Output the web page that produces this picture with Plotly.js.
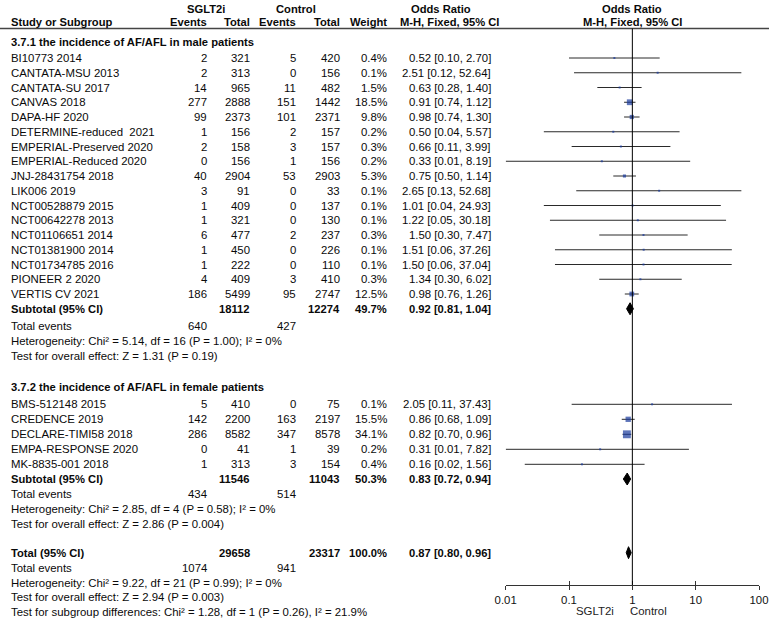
<!DOCTYPE html>
<html>
<head>
<meta charset="utf-8">
<script src="https://cdn.plot.ly/plotly-3.0.1.min.js"></script>
<style>html,body{margin:0;padding:0;background:#fff}#chart{width:769px;height:622px}</style>
</head>
<body>
<div id="chart"></div>
<script>
// ---------- DATA ----------
const maleStudies = ["BI10773 2014","CANTATA-MSU 2013","CANTATA-SU 2017","CANVAS 2018","DAPA-HF 2020","DETERMINE-reduced  2021","EMPERIAL-Preserved 2020","EMPERIAL-Reduced 2020","JNJ-28431754 2018","LIK006 2019","NCT00528879 2015","NCT00642278 2013","NCT01106651 2014","NCT01381900 2014","NCT01734785 2016","PIONEER 2 2020","VERTIS CV 2021"];
const maleEventsT = [2,2,14,277,99,1,2,0,40,3,1,1,6,1,1,4,186];
const maleTotalT  = [321,313,965,2888,2373,156,158,156,2904,91,409,321,477,450,222,409,5499];
const maleEventsC = [5,0,11,151,101,2,3,1,53,0,0,0,2,0,0,3,95];
const maleTotalC  = [420,156,482,1442,2371,157,157,156,2903,33,137,130,237,226,110,410,2747];
const maleWeight  = [0.4,0.1,1.5,18.5,9.8,0.2,0.3,0.2,5.3,0.1,0.1,0.1,0.3,0.1,0.1,0.3,12.5];
const maleOR      = [0.52,2.51,0.63,0.91,0.98,0.50,0.66,0.33,0.75,2.65,1.01,1.22,1.50,1.51,1.50,1.34,0.98];
const maleLo      = [0.10,0.12,0.28,0.74,0.74,0.04,0.11,0.01,0.50,0.13,0.04,0.05,0.30,0.06,0.06,0.30,0.76];
const maleHi      = [2.70,52.64,1.40,1.12,1.30,5.57,3.99,8.19,1.14,52.68,24.93,30.18,7.47,37.26,37.04,6.02,1.26];
const maleSub     = {totalT:18112,totalC:12274,weight:49.7,or:0.92,lo:0.81,hi:1.04,eventsT:640,eventsC:427};
const maleHet     = "Heterogeneity: Chi² = 5.14, df = 16 (P = 1.00); I² = 0%";
const maleTest    = "Test for overall effect: Z = 1.31 (P = 0.19)";

const femaleStudies = ["BMS-512148 2015","CREDENCE 2019","DECLARE-TIMI58 2018","EMPA-RESPONSE 2020","MK-8835-001 2018"];
const femaleEventsT = [5,142,286,0,1];
const femaleTotalT  = [410,2200,8582,41,313];
const femaleEventsC = [0,163,347,1,3];
const femaleTotalC  = [75,2197,8578,39,154];
const femaleWeight  = [0.1,15.5,34.1,0.2,0.4];
const femaleOR      = [2.05,0.86,0.82,0.31,0.16];
const femaleLo      = [0.11,0.68,0.70,0.01,0.02];
const femaleHi      = [37.43,1.09,0.96,7.82,1.56];
const femaleSub     = {totalT:11546,totalC:11043,weight:50.3,or:0.83,lo:0.72,hi:0.94,eventsT:434,eventsC:514};
const femaleHet     = "Heterogeneity: Chi² = 2.85, df = 4 (P = 0.58); I² = 0%";
const femaleTest    = "Test for overall effect: Z = 2.86 (P = 0.004)";

const overall       = {totalT:29658,totalC:23317,weight:100.0,or:0.87,lo:0.80,hi:0.96,eventsT:1074,eventsC:941};
const overallHet    = "Heterogeneity: Chi² = 9.22, df = 21 (P = 0.99); I² = 0%";
const overallTest   = "Test for overall effect: Z = 2.94 (P = 0.003)";
const subgroupTest  = "Test for subgroup differences: Chi² = 1.28, df = 1 (P = 0.26), I² = 21.9%";

const tickVals   = [0.01,0.1,1,10,100];
const tickLabels = ["0.01","0.1","1","10","100"];

// ---------- LAYOUT (pixel geometry) ----------
const W = 769, H = 622;
const FONT = "Liberation Sans, Arial, sans-serif";
const FS = 11.4, FSB = 11.2;
const colX = {name:9, evT:209.5, totT:252, evC:297.7, totC:342.3, wt:389.3, orTxt:493};
const axisY = 585;
const maleRowY = i => 58 + i*14.75;
const femaleRowY = i => 404.3 + i*15;
const Y = {
  hdr1: 9, hdr2: 22, line: 28.5, maleHead: 42,
  maleSub: 58 + 17*14.75, maleEv: 325.5, maleHet: 341, maleTest: 356,
  femHead: 387, femSub: 479, femEv: 494, femHet: 508.5, femTest: 523.5,
  tot: 552.7, totEv: 567.7, totHet: 582.5, totTest: 597.3, subTest: 612.3
};
const fmt2 = v => v.toFixed(2);
const ciText = (o,l,h) => `${fmt2(o)} [${fmt2(l)}, ${fmt2(h)}]`;

const ann = [];
function txt(x, y, s, anchor, bold, color) {
  ann.push({xref:'paper', yref:'y', x: x/W, y: y, text: bold ? '<b>'+s+'</b>' : s,
    xanchor: anchor, yanchor:'middle', showarrow:false,
    font:{family:FONT, size: bold ? FSB : FS, color: color || '#0a0a0a'}});
}

// headers
txt(206, Y.hdr1, 'SGLT2i', 'center', true);
txt(296, Y.hdr1, 'Control', 'center', true);
txt(441, Y.hdr1, 'Odds Ratio', 'center', true);
txt(632, Y.hdr1, 'Odds Ratio', 'center', true);
txt(colX.name, Y.hdr2, 'Study or Subgroup', 'left', true);
txt(colX.evT, Y.hdr2, 'Events', 'right', true);
txt(colX.totT, Y.hdr2, 'Total', 'right', true);
txt(colX.evC, Y.hdr2, 'Events', 'right', true);
txt(colX.totC, Y.hdr2, 'Total', 'right', true);
txt(colX.wt, Y.hdr2, 'Weight', 'right', true);
txt(449, Y.hdr2, 'M-H, Fixed, 95% CI', 'center', true);
txt(632, Y.hdr2, 'M-H, Fixed, 95% CI', 'center', true);

function studyRows(names, eT, tT, eC, tC, wt, or, lo, hi, rowY) {
  names.forEach((n,i) => {
    const y = rowY(i);
    txt(colX.name, y, n, 'left');
    txt(colX.evT, y, String(eT[i]), 'right');
    txt(colX.totT, y, String(tT[i]), 'right');
    txt(colX.evC, y, String(eC[i]), 'right');
    txt(colX.totC, y, String(tC[i]), 'right');
    txt(colX.wt, y, wt[i].toFixed(1)+'%', 'right');
    txt(colX.orTxt, y, ciText(or[i],lo[i],hi[i]), 'right');
  });
}
function summaryRows(label, s, ySub, yEv) {
  txt(colX.name, ySub, label, 'left', true);
  txt(colX.totT, ySub, String(s.totalT), 'right', true);
  txt(colX.totC, ySub, String(s.totalC), 'right', true);
  txt(colX.wt, ySub, s.weight.toFixed(1)+'%', 'right', true);
  txt(colX.orTxt, ySub, ciText(s.or,s.lo,s.hi), 'right', true);
  txt(colX.name, yEv, 'Total events', 'left');
  txt(colX.evT, yEv, String(s.eventsT), 'right');
  txt(colX.evC, yEv, String(s.eventsC), 'right');
}

txt(colX.name, Y.maleHead, '3.7.1 the incidence of AF/AFL in male patients', 'left', true);
studyRows(maleStudies, maleEventsT, maleTotalT, maleEventsC, maleTotalC, maleWeight, maleOR, maleLo, maleHi, maleRowY);
summaryRows('Subtotal (95% CI)', maleSub, Y.maleSub, Y.maleEv);
txt(colX.name, Y.maleHet, maleHet, 'left');
txt(colX.name, Y.maleTest, maleTest, 'left');

txt(colX.name, Y.femHead, '3.7.2 the incidence of AF/AFL in female patients', 'left', true);
studyRows(femaleStudies, femaleEventsT, femaleTotalT, femaleEventsC, femaleTotalC, femaleWeight, femaleOR, femaleLo, femaleHi, femaleRowY);
summaryRows('Subtotal (95% CI)', femaleSub, Y.femSub, Y.femEv);
txt(colX.name, Y.femHet, femaleHet, 'left');
txt(colX.name, Y.femTest, femaleTest, 'left');

summaryRows('Total (95% CI)', overall, Y.tot, Y.totEv);
txt(colX.name, Y.totHet, overallHet, 'left');
txt(colX.name, Y.totTest, overallTest, 'left');
txt(colX.name, Y.subTest, subgroupTest, 'left');

// favours labels
txt(616, 610.5, 'SGLT2i', 'right', false, '#222');
txt(628, 610.5, 'Control', 'left', false, '#222');

// ---------- TRACES ----------
const ciX = [], ciY = [], sqX = [], sqY = [], sqS = [];
function addStudies(or, lo, hi, wt, rowY) {
  or.forEach((o,i) => {
    const y = rowY(i);
    ciX.push(lo[i], hi[i], null); ciY.push(y, y, null);
    sqX.push(o); sqY.push(y); sqS.push(Math.max(2, 1.35*Math.sqrt(wt[i])));
  });
}
addStudies(maleOR, maleLo, maleHi, maleWeight, maleRowY);
addStudies(femaleOR, femaleLo, femaleHi, femaleWeight, femaleRowY);

const traces = [
  {x: ciX, y: ciY, mode:'lines', line:{color:'#2a2a2a', width:1}, hoverinfo:'skip', xaxis:'x', yaxis:'y'},
  {x: sqX, y: sqY, mode:'markers', marker:{symbol:'square', color:'#1a3a9c', size:sqS, line:{width:0}}, hoverinfo:'skip', xaxis:'x', yaxis:'y'}
];
const DH = 6;
[[maleSub, Y.maleSub],[femaleSub, Y.femSub],[overall, Y.tot]].forEach(([s,y]) => {
  traces.push({x:[s.lo, s.or, s.hi, s.or, s.lo], y:[y, y-DH, y, y+DH, y], mode:'lines', fill:'toself',
    fillcolor:'#000', line:{color:'#000', width:1}, hoverinfo:'skip', xaxis:'x', yaxis:'y'});
});
// dummy trace for the overlay axis (upward tick marks)
traces.push({x:[1], y:[-100], mode:'markers', marker:{opacity:0}, hoverinfo:'skip', xaxis:'x2', yaxis:'y'});

const dom = [505.7/W, 759/W];
const axPos = 1 - axisY/H;
const layout = {
  width: W, height: H, margin:{l:0,r:0,t:0,b:0}, paper_bgcolor:'#fff', plot_bgcolor:'rgba(0,0,0,0)',
  showlegend:false, hovermode:false,
  xaxis:{type:'log', range:[-2,2], domain:dom, anchor:'free', position:axPos,
    tickvals:tickVals, ticktext:tickLabels, ticks:'outside', ticklen:4, tickcolor:'#333', tickwidth:1,
    showline:true, linecolor:'#333', linewidth:1, showgrid:false, zeroline:false,
    tickfont:{family:FONT, size:FS, color:'#111'}, fixedrange:true},
  xaxis2:{type:'log', range:[-2,2], domain:dom, anchor:'free', position:axPos, overlaying:'x',
    tickvals:tickVals, ticks:'inside', ticklen:4, tickcolor:'#333', tickwidth:1,
    showticklabels:false, showline:false, showgrid:false, zeroline:false, fixedrange:true},
  yaxis:{range:[H,0], domain:[0,1], visible:false, fixedrange:true},
  shapes:[
    {type:'line', xref:'paper', yref:'y', x0:0, x1:1, y0:Y.line, y1:Y.line, line:{color:'#444', width:1.5}},
    {type:'line', xref:'x', yref:'y', x0:1, x1:1, y0:Y.line, y1:axisY, line:{color:'#000', width:1}}
  ],
  annotations: ann
};
Plotly.newPlot('chart', traces, layout, {displayModeBar:false, staticPlot:true});
</script>
</body>
</html>
